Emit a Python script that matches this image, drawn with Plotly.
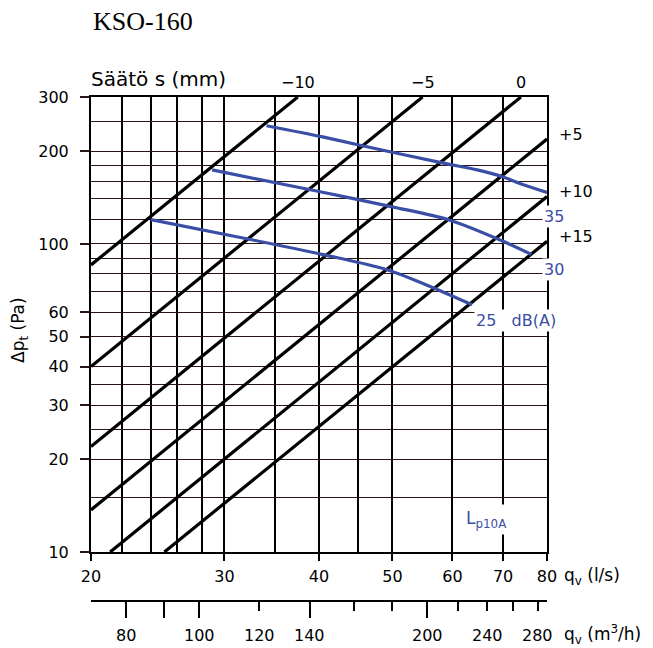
import math
import plotly.graph_objects as go

# ---------------- data ----------------
title_text = "KSO-160"

# flow axis (l/s)
q_ticks = [20, 30, 40, 50, 60, 70, 80]
q_minor = [22, 24, 26, 28, 35, 45]
# pressure axis (Pa)
dp_ticks = [10, 20, 30, 40, 50, 60, 100, 200, 300]
dp_minor = [15, 25, 35, 70, 80, 90, 120, 140, 160, 180, 250]
# flow axis (m3/h)
m3h_long = [80, 90, 100, 140, 200]
m3h_short = [120, 160, 180, 220, 240, 260, 280]
m3h_labels = [80, 100, 120, 140, 200, 240, 280]

# damper setting lines s (mm): start / end points
setting_labels = ["\u221210", "\u22125", "0", "+5", "+10", "+15"]
set_q_start = [20, 20, 20, 20, 21.2, 25.0]
set_dp_start = [85.5, 40, 22, 13.7, 10, 10]
set_q_end = [37.5, 54.8, 73.9, 80, 80, 80]
set_dp_end = [300, 300, 300, 219, 142.5, 102]

# sound level curves Lp10A
lp35_q = [34.1, 40.3, 45, 58.4, 64.7, 70, 74.3, 80]
lp35_dp = [242, 223, 210, 183, 174, 165, 156, 147]
lp30_q = [28.9, 40, 50, 59.2, 70, 76.3]
lp30_dp = [174, 148, 132, 120, 102, 92.5]
lp25_q = [24, 32.1, 40.8, 49.2, 56.7, 63.7]
lp25_dp = [120, 104, 92, 82.5, 72, 63.5]
lp_labels = ["35", "30", "25\u00a0\u00a0\u00a0dB(A)"]

# ---------------- layout helpers ----------------
OFF = 8  # default page body margin
W, H = 653 - OFF, 648 - OFF
L, R, T, B = 91, 547, 97, 601      # page pixel positions
PLOT_BOTTOM = 552


def px(x):
    return (x - L) / (R - L)


def py(y):
    return (B - y) / (B - T)


BLUE = "#3a4ea6"
FONT = "DejaVu Sans"
HGRID = "#2a1515"

fig = go.Figure()

for qs, ds, qe, de in zip(set_q_start, set_dp_start, set_q_end, set_dp_end):
    fig.add_trace(go.Scatter(x=[qs, qe], y=[ds, de], mode="lines",
                             line=dict(color="black", width=3.2),
                             hoverinfo="skip", showlegend=False))

for qq, dd in [(lp35_q, lp35_dp), (lp30_q, lp30_dp), (lp25_q, lp25_dp)]:
    fig.add_trace(go.Scatter(x=qq, y=dd, mode="lines",
                             line=dict(color=BLUE, width=3.2, shape="spline", smoothing=0.8),
                             hoverinfo="skip", showlegend=False))

# invisible trace to activate m3/h axis
fig.add_trace(go.Scatter(x=[m3h_long[0], m3h_short[-1]], y=[dp_ticks[0], dp_ticks[0]],
                         xaxis="x2", yaxis="y", mode="lines",
                         line=dict(width=0), opacity=0, hoverinfo="skip", showlegend=False))

annotations = []
# title
annotations.append(dict(text=title_text, x=px(91), y=py(21), xref="paper", yref="paper",
                        xanchor="left", yanchor="middle", showarrow=False,
                        font=dict(family="Liberation Serif", size=26, color="black")))
# Säätö label
annotations.append(dict(text="Säätö s (mm)", x=px(89), y=py(79), xref="paper", yref="paper",
                        xanchor="left", yanchor="middle", showarrow=False,
                        font=dict(family=FONT, size=20, color="black")))
# setting labels
for lab, qe, de in zip(setting_labels, set_q_end, set_dp_end):
    if de >= 300:
        annotations.append(dict(text=lab, x=math.log10(qe), y=py(82), xref="x", yref="paper",
                                xanchor="center", yanchor="middle", showarrow=False,
                                font=dict(family=FONT, size=16, color="black")))
    else:
        annotations.append(dict(text=lab, x=1, xshift=10, y=math.log10(de), yshift=5,
                                xref="paper", yref="y", xanchor="left", yanchor="middle",
                                showarrow=False, font=dict(family=FONT, size=16, color="black")))
# sound level labels
for lab, (xl, yc) in zip(lp_labels, [(542, 216.5), (542, 269.5), (474, 320)]):
    annotations.append(dict(text=lab, x=px(xl), y=py(yc), xref="paper", yref="paper",
                            xanchor="left", yanchor="middle", showarrow=False,
                            bgcolor="white", borderpad=1,
                            font=dict(family=FONT, size=16, color=BLUE)))
annotations.append(dict(text="L<sub>p10A</sub>", x=px(462), y=py(519), xref="paper", yref="paper",
                        xanchor="left", yanchor="middle", showarrow=False,
                        bgcolor="white", borderpad=3,
                        font=dict(family=FONT, size=17, color=BLUE)))
# axis unit labels
annotations.append(dict(text="q<sub>v</sub> (l/s)", x=px(562), y=py(576), xref="paper", yref="paper",
                        xanchor="left", yanchor="middle", showarrow=False,
                        font=dict(family=FONT, size=17, color="black")))
annotations.append(dict(text="q<sub>v</sub> (m<sup>3</sup>/h)", x=px(562), y=py(634), xref="paper",
                        yref="paper", xanchor="left", yanchor="middle", showarrow=False,
                        font=dict(family=FONT, size=17, color="black")))
for v in m3h_labels:
    annotations.append(dict(text=str(v), x=math.log10(v), y=py(635), xref="x2", yref="paper",
                            xanchor="center", yanchor="middle", showarrow=False,
                            font=dict(family=FONT, size=16, color="black")))
annotations.append(dict(text="\u0394p<sub>t</sub> (Pa)", x=px(19), y=py(330), xref="paper",
                        yref="paper", textangle=-90, xanchor="center", yanchor="middle",
                        showarrow=False, font=dict(family=FONT, size=17, color="black")))

fig.update_layout(
    width=W, height=H,
    margin=dict(l=L - OFF, r=W - (R - OFF), t=T - OFF, b=H - (B - OFF)),
    paper_bgcolor="white", plot_bgcolor="white",
    font=dict(family=FONT, size=16, color="black"),
    showlegend=False,
    annotations=annotations,
    xaxis=dict(type="log", range=[math.log10(q_ticks[0]), math.log10(q_ticks[-1])],
               tickmode="array", tickvals=q_ticks, ticktext=[str(v) for v in q_ticks],
               ticks="outside", ticklen=7, tickwidth=1.5, tickcolor="black",
               ticklabelstandoff=2,
               showgrid=True, gridcolor="black", gridwidth=1.6,
               minor=dict(tickmode="array", tickvals=q_minor, showgrid=True,
                          gridcolor="black", gridwidth=1.6, ticks=""),
               showline=True, linecolor="black", linewidth=2, mirror=True,
               anchor="y", zeroline=False, fixedrange=True),
    xaxis2=dict(type="log", range=[math.log10(72), math.log10(288)],
                overlaying="x", anchor="free", position=0, side="bottom",
                tickmode="array", tickvals=m3h_long, showticklabels=False,
                ticks="outside", ticklen=16, tickwidth=1.5, tickcolor="black",
                minor=dict(tickmode="array", tickvals=m3h_short, ticks="outside",
                           ticklen=9, tickwidth=1.5, tickcolor="black", showgrid=False),
                showgrid=False, showline=True, linecolor="black", linewidth=1.5,
                zeroline=False, fixedrange=True),
    yaxis=dict(type="log", range=[math.log10(dp_ticks[0]), math.log10(dp_ticks[-1])],
               domain=[(B - PLOT_BOTTOM) / (B - T), 1],
               tickmode="array", tickvals=dp_ticks, ticktext=[str(v) for v in dp_ticks],
               ticks="outside", ticklen=9, tickwidth=1.5, tickcolor=HGRID,
               ticklabelstandoff=8,
               showgrid=True, gridcolor=HGRID, gridwidth=1.3,
               minor=dict(tickmode="array", tickvals=dp_minor, showgrid=True,
                          gridcolor=HGRID, gridwidth=1.3, ticks=""),
               showline=True, linecolor="black", linewidth=2, mirror=True,
               zeroline=False, fixedrange=True),
)

fig.write_html("out.html")
